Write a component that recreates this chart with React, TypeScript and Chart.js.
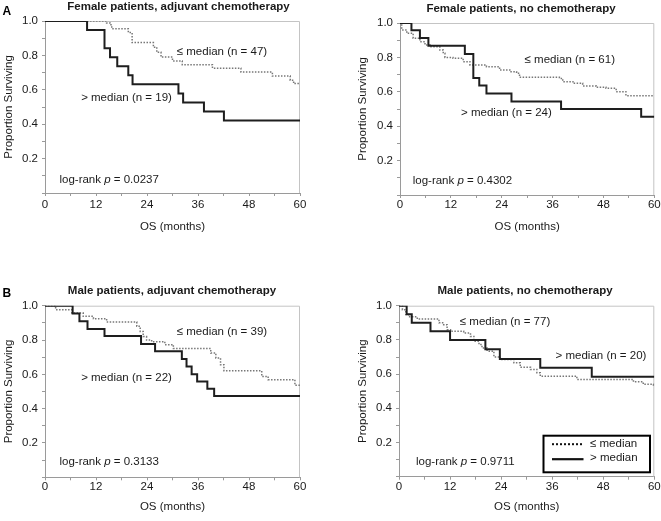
import React, { useEffect, useRef } from 'react';
import { Chart, registerables } from 'chart.js';

Chart.register(...registerables);

const FONT = '"Liberation Sans", Arial, Helvetica, sans-serif';

// ---------- Data (months, proportion surviving after each step) ----------
// Female patients, adjuvant chemotherapy
const femAdjAboveMonths = [0, 9.9, 14.0, 15.3, 17.0, 19.6, 20.6, 31.4, 32.5, 37.4, 42.1, 60];
const femAdjAboveSurv = [1, 0.947, 0.842, 0.789, 0.737, 0.684, 0.632, 0.579, 0.526, 0.474, 0.421, 0.421];
const femAdjBelowMonths = [0, 14.5, 15.3, 15.7, 19.6, 20.5, 25.5, 26.3, 27.3, 30.0, 32.3, 39.4, 46.1, 53.5, 57.7, 58.5, 60];
const femAdjBelowSurv = [1, 0.989, 0.978, 0.955, 0.933, 0.875, 0.848, 0.818, 0.79, 0.768, 0.746, 0.726, 0.703, 0.68, 0.656, 0.636, 0.636];

// Female patients, no chemotherapy
const femNoAboveMonths = [0, 2.7, 4.7, 6.7, 15.3, 17.3, 18.7, 20.4, 26.3, 38.0, 56.9, 60];
const femNoAboveSurv = [1, 0.958, 0.913, 0.868, 0.82, 0.68, 0.636, 0.59, 0.543, 0.5, 0.455, 0.455];
const femNoBelowMonths = [0, 0.4, 1.6, 3.1, 4.7, 5.9, 7.1, 9.4, 10.2, 10.6, 12.5, 14.9, 16.5, 20.4, 23.5, 25.9, 27.5, 28.2, 37.6, 38.4, 40.8, 43.1, 46.3, 48.6, 51.0, 53.3, 60];
const femNoBelowSurv = [1, 0.96, 0.94, 0.911, 0.891, 0.872, 0.862, 0.843, 0.824, 0.8, 0.795, 0.775, 0.756, 0.746, 0.727, 0.717, 0.708, 0.684, 0.678, 0.659, 0.649, 0.634, 0.626, 0.62, 0.6, 0.577, 0.577];

// Male patients, adjuvant chemotherapy
const maleAdjAboveMonths = [0, 6.5, 8.1, 10.0, 14.0, 22.6, 25.9, 32.2, 33.3, 34.5, 35.8, 38.2, 39.8, 60];
const maleAdjAboveSurv = [1, 0.955, 0.909, 0.864, 0.823, 0.777, 0.735, 0.689, 0.645, 0.6, 0.559, 0.516, 0.474, 0.474];
const maleAdjBelowMonths = [0, 2.5, 6.3, 9.0, 11.4, 14.5, 21.6, 22.4, 23.1, 23.9, 25.1, 28.2, 30.2, 39.0, 40.2, 41.3, 42.1, 51.0, 52.5, 58.8, 60];
const maleAdjBelowSurv = [1, 0.977, 0.957, 0.938, 0.924, 0.905, 0.88, 0.85, 0.82, 0.8, 0.79, 0.773, 0.75, 0.724, 0.695, 0.656, 0.621, 0.588, 0.569, 0.536, 0.536];

// Male patients, no chemotherapy
const maleNoAboveMonths = [0, 1.8, 3.0, 7.4, 12.0, 20.3, 23.7, 33.2, 45.3, 60];
const maleNoAboveSurv = [1, 0.95, 0.9, 0.85, 0.8, 0.745, 0.689, 0.637, 0.584, 0.584];
const maleNoBelowMonths = [0, 0.8, 1.6, 2.3, 4.3, 9.4, 10.5, 11.3, 12.1, 15.2, 16.8, 17.6, 18.8, 19.5, 20.7, 22.3, 23.8, 27.0, 28.5, 30.9, 32.4, 33.2, 41.8, 55.1, 57.4, 59.8, 60];
const maleNoBelowSurv = [1, 0.977, 0.948, 0.935, 0.922, 0.9, 0.889, 0.86, 0.85, 0.84, 0.82, 0.792, 0.773, 0.753, 0.734, 0.7, 0.685, 0.666, 0.64, 0.627, 0.608, 0.588, 0.569, 0.555, 0.54, 0.53, 0.53];

// Labels
const panelTitles = [
  'Female patients, adjuvant chemotherapy',
  'Female patients, no chemotherapy',
  'Male patients, adjuvant chemotherapy',
  'Male patients, no chemotherapy',
];
const belowLabels = ['≤ median (n = 47)', '≤ median (n = 61)', '≤ median (n = 39)', '≤ median (n = 77)'];
const aboveLabels = ['> median (n = 19)', '> median (n = 24)', '> median (n = 22)', '> median (n = 20)'];
const pValues = ['0.0237', '0.4302', '0.3133', '0.9711'];
const legendLabels = ['≤ median', '> median'];
const xAxisTitle = 'OS (months)';
const yAxisTitle = 'Proportion Surviving';

// ---------- Layout / style ----------
const SOLID_COLOR = '#1e1e1e';
const DOT_COLOR = '#777777';
const AXIS_COLOR = '#9a9a9a';
const FRAME_COLOR = '#c4c4c4';
const TEXT_COLOR = '#1a1a1a';
const FS = 11.5;
const LH = FS * 1.2;

type Rect = { left: number; top: number; width: number; height: number };
type Area = { l: number; t: number; r: number; b: number };
type Note = { parts: { t: string; italic?: boolean }[]; x: number; y: number };

interface PanelSpec {
  canvas: Rect;
  area: Area;
  xTitleY: number;
  yTitleX: number;
  xTickPad: number;
  title: string;
  titleX: number;
  titleBase: number;
  letter?: string;
  letterX?: number;
  letterBase?: number;
  above: { m: number[]; s: number[] };
  below: { m: number[]; s: number[] };
  notes: Note[];
  legend?: { l: number; t: number; r: number; b: number };
}

const logNote = (p: string, x: number, y: number): Note => ({
  parts: [{ t: 'log-rank ' }, { t: 'p', italic: true }, { t: ' = ' + p }],
  x,
  y,
});

const panels: PanelSpec[] = [
  {
    canvas: { left: 0, top: 0, width: 330, height: 260 },
    area: { l: 45, t: 21, r: 300, b: 193 },
    xTitleY: 227,
    yTitleX: 8.5,
    xTickPad: 2.4,
    title: panelTitles[0],
    titleX: 178.5,
    titleBase: 10,
    letter: 'A',
    letterX: 2.5,
    letterBase: 15,
    above: { m: femAdjAboveMonths, s: femAdjAboveSurv },
    below: { m: femAdjBelowMonths, s: femAdjBelowSurv },
    notes: [
      { parts: [{ t: belowLabels[0] }], x: 31.0, y: 0.82 },
      { parts: [{ t: aboveLabels[0] }], x: 8.5, y: 0.552 },
      logNote(pValues[0], 3.4, 0.076),
    ],
  },
  {
    canvas: { left: 330, top: 0, width: 331, height: 260 },
    area: { l: 400, t: 23, r: 655, b: 195 },
    xTitleY: 227,
    yTitleX: 362.7,
    xTickPad: 0.3,
    title: panelTitles[1],
    titleX: 521,
    titleBase: 11.5,
    above: { m: femNoAboveMonths, s: femNoAboveSurv },
    below: { m: femNoBelowMonths, s: femNoBelowSurv },
    notes: [
      { parts: [{ t: belowLabels[1] }], x: 29.4, y: 0.785 },
      { parts: [{ t: aboveLabels[1] }], x: 14.4, y: 0.477 },
      logNote(pValues[1], 3.0, 0.081),
    ],
  },
  {
    canvas: { left: 0, top: 260, width: 330, height: 261 },
    area: { l: 45, t: 305.7, r: 300, b: 477.3 },
    xTitleY: 506.7,
    yTitleX: 8.5,
    xTickPad: 0,
    title: panelTitles[2],
    titleX: 172,
    titleBase: 293.5,
    letter: 'B',
    letterX: 2.5,
    letterBase: 296.7,
    above: { m: maleAdjAboveMonths, s: maleAdjAboveSurv },
    below: { m: maleAdjBelowMonths, s: maleAdjBelowSurv },
    notes: [
      { parts: [{ t: belowLabels[2] }], x: 31.0, y: 0.848 },
      { parts: [{ t: aboveLabels[2] }], x: 8.5, y: 0.577 },
      logNote(pValues[2], 3.4, 0.091),
    ],
  },
  {
    canvas: { left: 330, top: 260, width: 331, height: 261 },
    area: { l: 399, t: 305.7, r: 655, b: 476.7 },
    xTitleY: 506.7,
    yTitleX: 362.7,
    xTickPad: 0.3,
    title: panelTitles[3],
    titleX: 525,
    titleBase: 293.5,
    above: { m: maleNoAboveMonths, s: maleNoAboveSurv },
    below: { m: maleNoBelowMonths, s: maleNoBelowSurv },
    notes: [
      { parts: [{ t: belowLabels[3] }], x: 14.3, y: 0.903 },
      { parts: [{ t: aboveLabels[3] }], x: 36.8, y: 0.708 },
      logNote(pValues[3], 4.0, 0.088),
    ],
    legend: { l: 543.5, t: 435.7, r: 650, b: 472.3 },
  },
];

function drawParts(ctx: CanvasRenderingContext2D, parts: Note['parts'], x: number, y: number) {
  let cx = x;
  for (const p of parts) {
    ctx.font = `${p.italic ? 'italic ' : ''}${FS}px ${FONT}`;
    ctx.fillText(p.t, cx, y);
    cx += ctx.measureText(p.t).width;
  }
}

function Panel({ spec }: { spec: PanelSpec }) {
  const ref = useRef<HTMLCanvasElement | null>(null);

  useEffect(() => {
    const canvas = ref.current;
    if (!canvas) return;
    const { canvas: c, area } = spec;
    const yAxisW = 45;
    const padLeft = area.l - c.left - yAxisW;
    const padTop = area.t - c.top;
    const padRight = c.left + c.width - area.r;
    const xAxisH = c.top + c.height - area.b;
    const xTitlePadBottom = c.top + c.height - spec.xTitleY - LH / 2;
    const yTitlePadTop = spec.yTitleX - c.left - padLeft - LH / 2;
    const ox = c.left;
    const oy = c.top;

    const overlay = {
      id: 'kmOverlay',
      beforeDatasetsDraw(chart: any) {
        const ctx = chart.ctx as CanvasRenderingContext2D;
        const ca = chart.chartArea;
        ctx.save();
        ctx.strokeStyle = FRAME_COLOR;
        ctx.lineWidth = 1;
        ctx.beginPath();
        ctx.moveTo(ca.left, ca.top + 0.5);
        ctx.lineTo(ca.right - 0.5, ca.top + 0.5);
        ctx.lineTo(ca.right - 0.5, ca.bottom);
        ctx.stroke();
        ctx.restore();
      },
      afterDraw(chart: any) {
        const ctx = chart.ctx as CanvasRenderingContext2D;
        const xs = chart.scales.x;
        const ys = chart.scales.y;
        ctx.save();
        ctx.fillStyle = TEXT_COLOR;
        // title
        ctx.font = `bold ${FS}px ${FONT}`;
        ctx.textAlign = 'center';
        ctx.textBaseline = 'alphabetic';
        ctx.fillText(spec.title, spec.titleX - ox, spec.titleBase - oy);
        // panel letter
        if (spec.letter) {
          ctx.font = `bold 12px ${FONT}`;
          ctx.textAlign = 'left';
          ctx.fillStyle = '#000';
          ctx.fillText(spec.letter, (spec.letterX as number) - ox, (spec.letterBase as number) - oy);
        }
        // notes
        ctx.fillStyle = TEXT_COLOR;
        ctx.textAlign = 'left';
        ctx.textBaseline = 'middle';
        for (const n of spec.notes) {
          drawParts(ctx, n.parts, xs.getPixelForValue(n.x), ys.getPixelForValue(n.y));
        }
        // legend
        if (spec.legend) {
          const L = spec.legend;
          const l = L.l - ox, t = L.t - oy, r = L.r - ox, b = L.b - oy;
          ctx.strokeStyle = '#000';
          ctx.lineWidth = 2;
          ctx.setLineDash([]);
          ctx.strokeRect(l, t, r - l, b - t);
          const y1 = t + 8.5;
          const y2 = t + 23.5;
          const x1 = l + 8.5;
          const x2 = l + 40;
          ctx.lineWidth = 2;
          ctx.setLineDash([2, 2]);
          ctx.strokeStyle = '#111';
          ctx.beginPath();
          ctx.moveTo(x1, y1);
          ctx.lineTo(x2, y1);
          ctx.stroke();
          ctx.setLineDash([]);
          ctx.lineWidth = 2.2;
          ctx.beginPath();
          ctx.moveTo(x1, y2);
          ctx.lineTo(x2, y2);
          ctx.stroke();
          ctx.fillStyle = TEXT_COLOR;
          ctx.font = `${FS}px ${FONT}`;
          ctx.textBaseline = 'middle';
          ctx.fillText(legendLabels[0], l + 46.5, y1 - 0.5);
          ctx.fillText(legendLabels[1], l + 46.5, y2 - 1.5);
        }
        ctx.restore();
      },
    };

    const toPts = (m: number[], s: number[]) => m.map((v, i) => ({ x: v, y: s[i] }));
    const tickFont = { family: FONT, size: FS };

    const chart = new Chart(canvas, {
      type: 'line',
      data: {
        datasets: [
          {
            label: legendLabels[1],
            data: toPts(spec.above.m, spec.above.s),
            stepped: 'before',
            borderColor: SOLID_COLOR,
            borderWidth: 2,
            pointRadius: 0,
            fill: false,
          },
          {
            label: legendLabels[0],
            data: toPts(spec.below.m, spec.below.s),
            stepped: 'before',
            borderColor: DOT_COLOR,
            borderWidth: 1.5,
            borderDash: [1.5, 1.5],
            pointRadius: 0,
            fill: false,
          },
        ],
      },
      options: {
        responsive: false,
        animation: false,
        devicePixelRatio: 1,
        layout: { padding: { left: padLeft, top: padTop, right: padRight, bottom: 0 } },
        plugins: {
          legend: { display: false },
          tooltip: { enabled: false },
          title: { display: false },
        },
        scales: {
          x: {
            type: 'linear',
            min: 0,
            max: 60,
            afterFit: (s: any) => {
              s.height = xAxisH;
            },
            ticks: {
              stepSize: 6,
              autoSkip: false,
              maxRotation: 0,
              padding: spec.xTickPad,
              color: TEXT_COLOR,
              font: tickFont,
              callback: (v: any) => (Math.round(Number(v)) % 12 === 0 ? String(Math.round(Number(v))) : ''),
            },
            grid: { drawOnChartArea: false, drawTicks: true, tickLength: 3, color: AXIS_COLOR },
            border: { display: true, color: AXIS_COLOR, width: 1 },
            title: {
              display: true,
              text: xAxisTitle,
              color: TEXT_COLOR,
              font: tickFont,
              padding: { top: 0, bottom: xTitlePadBottom },
            },
          },
          y: {
            type: 'linear',
            min: 0,
            max: 1,
            afterFit: (s: any) => {
              s.width = yAxisW;
            },
            ticks: {
              stepSize: 0.1,
              autoSkip: false,
              padding: 4,
              color: TEXT_COLOR,
              font: tickFont,
              callback: (v: any) => {
                const k = Math.round(Number(v) * 10);
                return k > 0 && k % 2 === 0 ? (k / 10).toFixed(1) : '';
              },
            },
            grid: { drawOnChartArea: false, drawTicks: true, tickLength: 3, color: AXIS_COLOR },
            border: { display: true, color: AXIS_COLOR, width: 1 },
            title: {
              display: true,
              text: yAxisTitle,
              color: TEXT_COLOR,
              font: tickFont,
              padding: { top: yTitlePadTop, bottom: 0 },
            },
          },
        },
      },
      plugins: [overlay],
    } as any);

    return () => chart.destroy();
  }, [spec]);

  const c = spec.canvas;
  return (
    <canvas
      ref={ref}
      width={c.width}
      height={c.height}
      style={{ position: 'absolute', left: c.left, top: c.top, width: c.width, height: c.height }}
    />
  );
}

export default function App() {
  return (
    <div style={{ position: 'absolute', left: 0, top: 0, width: 661, height: 521, background: '#fff' }}>
      {panels.map((p, i) => (
        <Panel key={i} spec={p} />
      ))}
    </div>
  );
}
